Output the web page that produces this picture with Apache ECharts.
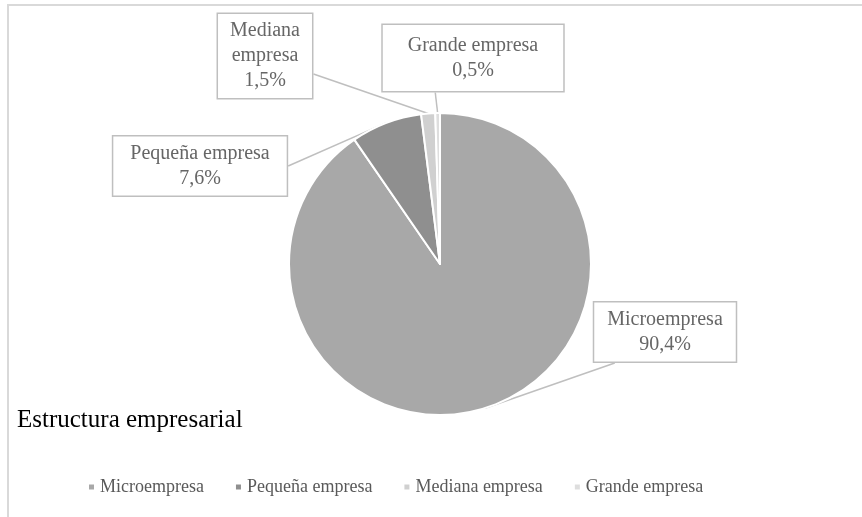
<!DOCTYPE html>
<html>
<head>
<meta charset="utf-8">
<script src="https://cdn.jsdelivr.net/npm/echarts@6/dist/echarts.min.js"></script>
<style>
html,body{margin:0;padding:0;background:#fff;}
#main{width:862px;height:517px;}
</style>
</head>
<body>
<div id="main"></div>
<script>
var categories = ['Microempresa', 'Pequeña empresa', 'Mediana empresa', 'Grande empresa'];
var values = [90.4, 7.6, 1.5, 0.5];
var colors = ['#a8a8a8', '#8f8f8f', '#d0d0d0', '#dedede'];
var labelNames = ['Microempresa', 'Pequeña empresa', 'Mediana\nempresa', 'Grande empresa'];
var titleText = 'Estructura empresarial';

// label box centres, paddings and where the callout meets the box (layout only)
var labelPos = [[665, 332], [200, 166], [265, 56], [473, 58]];
var labelPad = [[5, 13, 4, 13], [5, 17, 4, 17], [5, 12, 4, 12], [8, 25, 8, 25]];
var attach = [['left', 'bottom', 22], ['right', 'middle', 0], ['right', 'middle', 18], ['left', 'bottom', 54]];

var FONT = '"Liberation Serif", "DejaVu Serif", serif';
var chart = echarts.init(document.getElementById('main'));

var data = categories.map(function (c, i) {
  return { name: c, value: values[i], itemStyle: { color: colors[i] }, label: { padding: labelPad[i] } };
});

chart.setOption({
  animation: false,
  graphic: [{
    type: 'rect', silent: true,
    shape: { x: 8, y: 5, width: 1200, height: 1200 },
    style: { fill: 'none', stroke: '#d9d9d9', lineWidth: 2 }
  }],
  title: {
    text: titleText, left: 12, top: 403,
    textStyle: { fontFamily: FONT, fontSize: 25, fontWeight: 'normal', color: '#000' }
  },
  legend: {
    bottom: 16, left: 82,
    icon: 'rect', itemWidth: 7, itemHeight: 7, itemGap: 30,
    data: categories,
    textStyle: { fontFamily: FONT, fontSize: 18, color: '#595959' }
  },
  series: [{
    type: 'pie',
    center: [440, 264],
    radius: 151,
    startAngle: 90,
    clockwise: true,
    data: data,
    itemStyle: { borderColor: '#fff', borderWidth: 2 },
    label: {
      show: true,
      position: 'outside',
      formatter: function (p) {
        return labelNames[p.dataIndex] + '\n' + p.value.toFixed(1).replace('.', ',') + '%';
      },
      fontFamily: FONT,
      fontSize: 20,
      lineHeight: 25,
      color: '#666666',
      align: 'center',
      backgroundColor: '#fff',
      borderColor: '#bfbfbf',
      borderWidth: 1.5
    },
    labelLine: { show: true, lineStyle: { color: '#bfbfbf', width: 1.5 }, length: 10, length2: 10 },
    labelLayout: function (params) {
      var i = params.dataIndex;
      var p = labelPos[i];
      var w = params.labelRect.width, h = params.labelRect.height;
      var a = attach[i];
      var ex = a[0] === 'left' ? p[0] - w / 2 + a[2] : p[0] + w / 2;
      var ey = a[1] === 'bottom' ? p[1] + h / 2 : p[1] + a[2];
      var res = { x: p[0], y: p[1], align: 'center', verticalAlign: 'middle' };
      if (params.labelLinePoints && params.labelLinePoints[0]) {
        var s = params.labelLinePoints[0];
        res.labelLinePoints = [[s[0], s[1]], [ex, ey], [ex, ey]];
      }
      return res;
    }
  }]
});
</script>
</body>
</html>
